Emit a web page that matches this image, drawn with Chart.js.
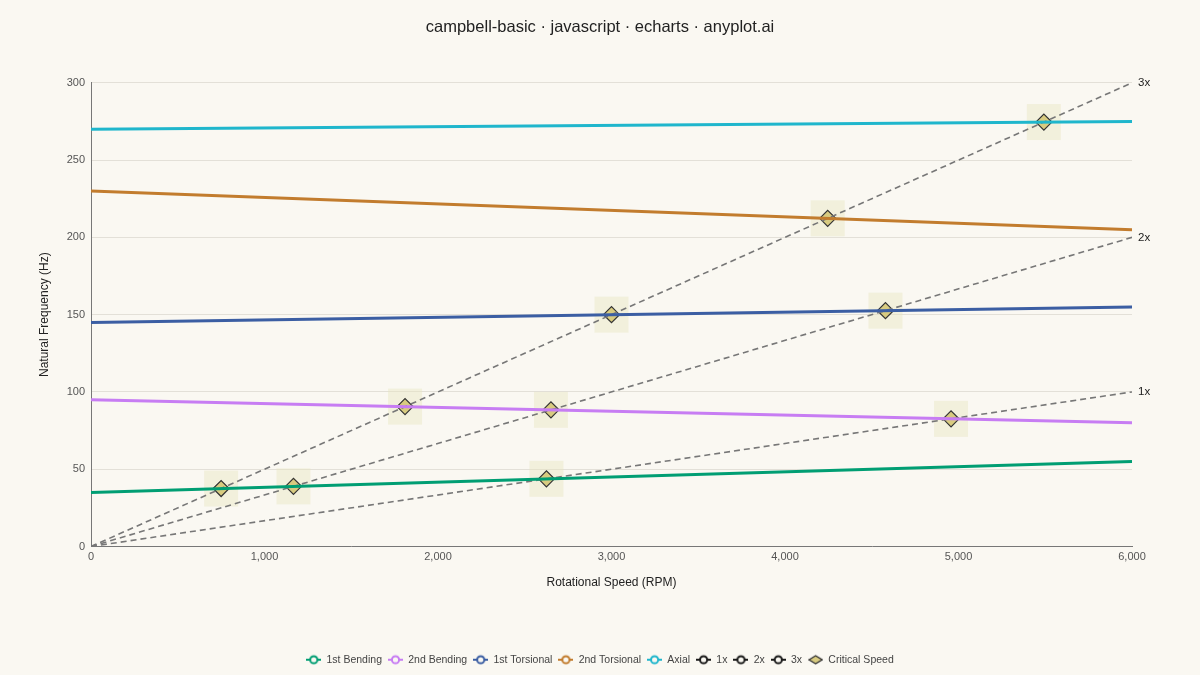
<!DOCTYPE html>
<html>
<head>
  <meta charset="UTF-8">
  <title>Campbell Diagram</title>
  <script src="https://cdn.jsdelivr.net/npm/chart.js@4"></script>
  <style>
    html, body { margin: 0; padding: 0; background: #FAF8F2; }
    #wrap { width: 1200px; height: 675px; }
  </style>
</head>
<body>
  <div id="wrap"><canvas id="chart" width="1200" height="675"></canvas></div>

  <script>
    // endpoints of each mode line (rpm, Hz)
    const rpm = [0, 6000];
    const bending1 = [35, 55];
    const bending2 = [95, 80];
    const torsional1 = [145, 155];
    const torsional2 = [230, 205];
    const axial = [270, 275];
    // engine order lines
    const order1x = [0, 100];
    const order2x = [0, 200];
    const order3x = [0, 300];
    // critical speeds (intersections)
    const critRpm = [750, 1167, 2625, 1810, 2651, 4957, 3000, 4579, 4246, 5492];
    const critHz = [37.5, 38.9, 43.8, 90.5, 88.4, 82.6, 150, 152.6, 212.3, 274.6];

    const BG = '#FAF8F2';
    const FONT = "'Liberation Sans', Arial, sans-serif";

    function pts(ys) {
      return rpm.map((x, i) => ({ x: x, y: ys[i] }));
    }

    // legend icon: short line with hollow circle, like echarts
    function lineIcon(color) {
      const c = document.createElement('canvas');
      c.width = 15; c.height = 12;
      const g = c.getContext('2d');
      g.strokeStyle = color; g.lineWidth = 2;
      g.beginPath(); g.moveTo(0, 6); g.lineTo(15, 6); g.stroke();
      g.beginPath(); g.arc(7.5, 6, 3.6, 0, Math.PI * 2);
      g.fillStyle = BG; g.fill(); g.stroke();
      return c;
    }
    function diamondIcon() {
      const c = document.createElement('canvas');
      c.width = 15; c.height = 12;
      const g = c.getContext('2d');
      g.beginPath();
      g.moveTo(1, 6); g.lineTo(7.5, 2); g.lineTo(14, 6); g.lineTo(7.5, 10); g.closePath();
      g.fillStyle = '#D8CB80'; g.fill();
      g.strokeStyle = '#333'; g.lineWidth = 1.3; g.stroke();
      return c;
    }

    function mode(label, data, color) {
      return {
        label: label, data: pts(data), borderColor: color, backgroundColor: color,
        borderWidth: 3, pointRadius: 0, fill: false, tension: 0,
        legendIcon: lineIcon(color)
      };
    }
    function order(label, data) {
      return {
        label: label, data: pts(data), borderColor: '#777', backgroundColor: '#777',
        borderWidth: 1.6, borderDash: [6, 4], pointRadius: 0, fill: false,
        legendIcon: lineIcon('#1a1a1a'), orderLabel: label
      };
    }

    const datasets = [
      mode('1st Bending', bending1, '#009E73'),
      mode('2nd Bending', bending2, '#C77DF3'),
      mode('1st Torsional', torsional1, '#3B5EA3'),
      mode('2nd Torsional', torsional2, '#C27C2E'),
      mode('Axial', axial, '#1FB6CC'),
      order('1x', order1x),
      order('2x', order2x),
      order('3x', order3x),
      {
        label: 'Critical Speed',
        data: critRpm.map((x, i) => ({ x: x, y: critHz[i] })),
        showLine: false, pointStyle: 'rectRot', pointRadius: 8,
        pointBackgroundColor: '#D8CB80', pointBorderColor: '#333', pointBorderWidth: 1.2,
        borderColor: '#333', backgroundColor: '#D8CB80',
        legendIcon: diamondIcon()
      }
    ];

    const extras = {
      id: 'extras',
      beforeDatasetsDraw(chart) {
        // pale boxes behind critical speed markers
        const ctx = chart.ctx;
        const xs = chart.scales.x, ys = chart.scales.y;
        ctx.save();
        ctx.fillStyle = 'rgba(232, 228, 190, 0.42)';
        critRpm.forEach((r, i) => {
          const px = xs.getPixelForValue(r), py = ys.getPixelForValue(critHz[i]);
          ctx.fillRect(px - 17, py - 18, 34, 36);
        });
        ctx.restore();
      },
      afterDatasetsDraw(chart) {
        const ctx = chart.ctx;
        ctx.save();
        ctx.font = '11.5px ' + FONT;
        ctx.fillStyle = '#222';
        ctx.textAlign = 'left';
        ctx.textBaseline = 'middle';
        chart.data.datasets.forEach((ds, i) => {
          if (!ds.orderLabel) return;
          const meta = chart.getDatasetMeta(i);
          const last = meta.data[meta.data.length - 1];
          ctx.fillText(ds.orderLabel, last.x + 6, last.y);
        });
        ctx.restore();
      }
    };

    new Chart(document.getElementById('chart'), {
      type: 'line',
      data: { datasets: datasets },
      options: {
        responsive: false,
        animation: false,
        layout: { padding: { left: 10, right: 10, top: 0, bottom: 0 } },
        plugins: {
          title: {
            display: true,
            text: 'campbell-basic · javascript · echarts · anyplot.ai',
            color: '#222',
            font: { family: FONT, size: 16.5, weight: 'normal' },
            padding: { top: 18, bottom: 45 }
          },
          legend: {
            position: 'bottom',
            labels: {
              usePointStyle: true,
              pointStyleWidth: 15,
              color: '#444',
              font: { family: FONT, size: 10.5 },
              padding: 6,
              generateLabels(chart) {
                return chart.data.datasets.map((ds, i) => ({
                  text: ds.label,
                  pointStyle: ds.legendIcon,
                  fontColor: '#444',
                  hidden: false,
                  datasetIndex: i,
                  lineWidth: 0
                }));
              }
            }
          },
          tooltip: { enabled: false }
        },
        scales: {
          x: {
            type: 'linear',
            min: 0, max: 6000,
            ticks: {
              stepSize: 1000, color: '#555', padding: 4,
              font: { family: FONT, size: 11 },
              callback: v => v.toLocaleString('en-US')
            },
            grid: { display: false, drawTicks: false },
            border: { display: true, color: '#777', width: 1 },
            title: {
              display: true, text: 'Rotational Speed (RPM)', color: '#222',
              font: { family: FONT, size: 12 }, padding: { top: 0, bottom: 59 }
            },
            afterFit(scale) { scale.height = 102; }
          },
          y: {
            min: 0, max: 300,
            ticks: {
              stepSize: 50, color: '#555', padding: 6,
              font: { family: FONT, size: 11 }
            },
            grid: { color: '#E3E0D8', drawTicks: false },
            border: { display: true, color: '#777', width: 1 },
            title: {
              display: true, text: 'Natural Frequency (Hz)', color: '#222',
              font: { family: FONT, size: 12 }, padding: { top: 27, bottom: 0 }
            },
            afterFit(scale) { scale.width = 81; }
          },
          // empty right axis, only reserves room for the 1x/2x/3x labels
          yRight: {
            position: 'right',
            display: true,
            ticks: { display: false },
            grid: { display: false, drawTicks: false },
            border: { display: false },
            afterFit(scale) { scale.width = 58; }
          }
        }
      },
      plugins: [extras]
    });
  </script>
</body>
</html>
